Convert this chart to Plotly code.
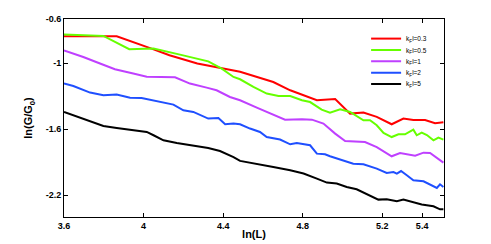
import plotly.graph_objects as go

labels = ["k<sub>F</sub>l=0.3", "k<sub>F</sub>l=0.5", "k<sub>F</sub>l=1", "k<sub>F</sub>l=2", "k<sub>F</sub>l=5"]
colors = ["#ff0000", "#66ff00", "#bf40ff", "#1f4fff", "#000000"]

x_red = [3.6, 3.865, 4.04, 4.13, 4.27, 4.35, 4.42, 4.485, 4.652, 4.737, 4.871, 4.963, 5.038, 5.105, 5.172, 5.247, 5.306, 5.356, 5.415, 5.465, 5.507]
y_red = [-0.757, -0.757, -0.869, -0.93, -1.005, -1.036, -1.057, -1.08, -1.173, -1.248, -1.339, -1.327, -1.46, -1.451, -1.49, -1.557, -1.505, -1.518, -1.518, -1.548, -1.539]

x_green = [3.6, 3.798, 3.928, 4.05, 4.183, 4.25, 4.325, 4.393, 4.452, 4.485, 4.552, 4.619, 4.678, 4.737, 4.796, 4.837, 4.895, 4.937, 4.988, 5.038, 5.105, 5.138, 5.172, 5.206, 5.247, 5.281, 5.314, 5.356, 5.373, 5.398, 5.424, 5.457, 5.482, 5.507]
y_green = [-0.742, -0.754, -0.875, -0.869, -0.924, -0.951, -0.985, -1.051, -1.127, -1.148, -1.218, -1.278, -1.3, -1.3, -1.339, -1.355, -1.424, -1.451, -1.421, -1.445, -1.521, -1.521, -1.566, -1.636, -1.673, -1.648, -1.648, -1.606, -1.657, -1.633, -1.655, -1.703, -1.678, -1.696]

x_purple = [3.6, 3.697, 3.781, 3.856, 3.948, 4.016, 4.158, 4.233, 4.317, 4.367, 4.434, 4.485, 4.569, 4.652, 4.711, 4.796, 4.846, 4.904, 4.963, 5.013, 5.113, 5.172, 5.247, 5.289, 5.365, 5.407, 5.44, 5.507]
y_purple = [-0.885, -0.945, -1.005, -1.057, -1.096, -1.124, -1.13, -1.187, -1.224, -1.248, -1.309, -1.339, -1.405, -1.466, -1.515, -1.512, -1.515, -1.551, -1.642, -1.709, -1.718, -1.764, -1.848, -1.818, -1.842, -1.815, -1.818, -1.906]

x_blue = [3.6, 3.647, 3.731, 3.798, 3.865, 3.932, 3.99, 4.066, 4.15, 4.2, 4.25, 4.325, 4.376, 4.41, 4.452, 4.485, 4.535, 4.585, 4.619, 4.686, 4.737, 4.77, 4.837, 4.871, 4.912, 4.937, 4.996, 5.054, 5.105, 5.172, 5.222, 5.256, 5.273, 5.294, 5.323, 5.356, 5.407, 5.449, 5.474, 5.49, 5.507]
y_blue = [-1.187, -1.209, -1.269, -1.294, -1.287, -1.315, -1.318, -1.345, -1.378, -1.43, -1.445, -1.505, -1.5, -1.557, -1.551, -1.557, -1.596, -1.627, -1.673, -1.696, -1.739, -1.727, -1.748, -1.824, -1.83, -1.848, -1.885, -1.915, -1.921, -1.96, -2.0, -1.991, -2.005, -1.982, -2.021, -2.066, -2.075, -2.112, -2.136, -2.103, -2.127]

x_black = [3.6, 3.697, 3.798, 3.865, 3.948, 4.016, 4.05, 4.1, 4.167, 4.233, 4.325, 4.384, 4.452, 4.485, 4.535, 4.602, 4.652, 4.737, 4.804, 4.871, 4.921, 4.971, 5.021, 5.071, 5.121, 5.18, 5.222, 5.273, 5.306, 5.356, 5.398, 5.457, 5.49, 5.507]
y_black = [-1.445, -1.505, -1.573, -1.591, -1.612, -1.627, -1.657, -1.703, -1.727, -1.748, -1.772, -1.8, -1.855, -1.89, -1.905, -1.924, -1.945, -1.975, -2.005, -2.051, -2.087, -2.096, -2.127, -2.148, -2.194, -2.242, -2.239, -2.257, -2.242, -2.269, -2.287, -2.303, -2.33, -2.33]

x_ticks = [3.6, 4, 4.4, 4.8, 5.2, 5.4]
x_ticktext = ["3.6", "4", "4.4", "4.8", "5.2", "5.4"]
y_ticks = [-0.6, -1, -1.6, -2.2]
y_ticktext = ["-0.6", "-1", "-1.6", "-2.2"]

series = [(x_red, y_red), (x_green, y_green), (x_purple, y_purple), (x_blue, y_blue), (x_black, y_black)]
legend_ids = ["legend", "legend2", "legend3", "legend4", "legend5"]
legend_y = [0.901, 0.843, 0.786, 0.729, 0.672]

fig = go.Figure()
for (xs, ys), name, c, lid in zip(series, labels, colors, legend_ids):
    fig.add_trace(go.Scatter(x=xs, y=ys, mode="lines", name=name, legend=lid,
                             line=dict(color=c, width=2)))

axis_common = dict(showgrid=False, zeroline=False, showline=True, mirror="ticks",
                   linecolor="#000000", linewidth=1, ticks="inside", ticklen=4,
                   tickcolor="#000000", automargin=False,
                   tickfont=dict(family="Liberation Sans, Arial", size=9, color="#000000"))

legend_style = dict(x=0.795, xanchor="left", yanchor="middle", bgcolor="rgba(0,0,0,0)",
                    font=dict(size=6.5, color="#000000"), itemwidth=30, borderwidth=0)

layout_legends = {}
for lid, ly in zip(legend_ids, legend_y):
    layout_legends[lid] = dict(y=ly, **legend_style)

# page body adds an 8px offset; margins compensate so the plot frame lands at x 64-444, y 19-217
fig.update_layout(
    width=483, height=236,
    margin=dict(l=56, r=47, t=11, b=27, autoexpand=False),
    paper_bgcolor="#ffffff", plot_bgcolor="#ffffff",
    font=dict(family="Liberation Sans, Arial", color="#000000"),
    xaxis=dict(range=[3.6, 5.51], tickvals=x_ticks, ticktext=[f"<b>{t}</b>" for t in x_ticktext],
               title=dict(text="<b>ln(L)</b>", font=dict(size=11), standoff=0), **axis_common),
    yaxis=dict(range=[-2.4, -0.6], tickvals=y_ticks, ticktext=[f"<b>{t}</b>" for t in y_ticktext],
               title=dict(text="<b>ln(G/G<sub>0</sub>)</b>", font=dict(size=11), standoff=10), **axis_common),
    showlegend=True,
    **layout_legends,
)

fig.write_html("out.html")
